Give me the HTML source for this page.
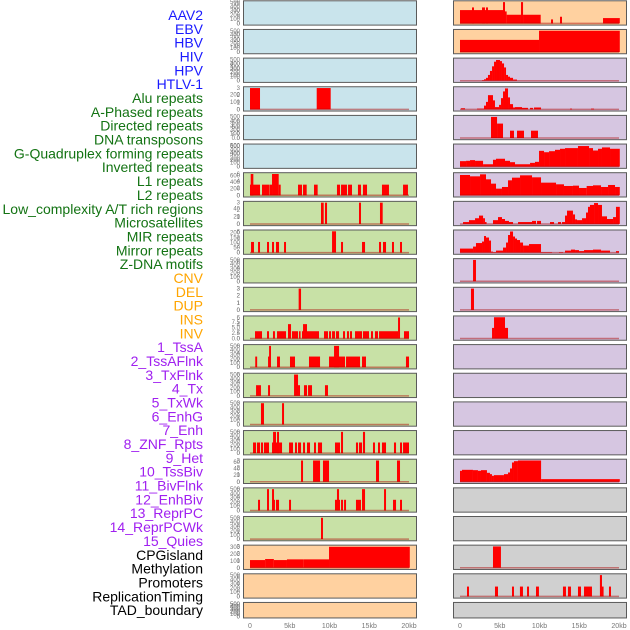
<!DOCTYPE html>
<html><head><meta charset="utf-8"><style>
body{margin:0;background:#fff;width:630px;height:630px;overflow:hidden}
svg{display:block}
</style></head><body>
<svg id="chart" width="630" height="630" xmlns="http://www.w3.org/2000/svg">
<g id="labels"></g>
<g id="panels"></g>
<g id="xaxes"></g>
</svg>
<script>
const trackNames = ["AAV2","EBV","HBV","HIV","HPV","HTLV-1","Alu repeats","A-Phased repeats","Directed repeats","DNA transposons","G-Quadruplex forming repeats","Inverted repeats","L1 repeats","L2 repeats","Low_complexity A/T rich regions","Microsatellites","MIR repeats","Mirror repeats","Z-DNA motifs","CNV","DEL","DUP","INS","INV","1_TssA","2_TssAFlnk","3_TxFlnk","4_Tx","5_TxWk","6_EnhG","7_Enh","8_ZNF_Rpts","9_Het","10_TssBiv","11_BivFlnk","12_EnhBiv","13_ReprPC","14_ReprPCWk","15_Quies","CPGisland","Methylation","Promoters","ReplicationTiming","TAD_boundary"];
const trackGroups = [0,0,0,0,0,0,1,1,1,1,1,1,1,1,1,1,1,1,1,2,2,2,2,2,3,3,3,3,3,3,3,3,3,3,3,3,3,3,3,4,4,4,4,4];
const xTickLabels = ["0","5kb","10kb","15kb","20kb"];
const xTickValues = [0,5,10,15,20];

// segments: [startKb, endKb, value]
const L3 = [[0,1.26,3],[8.39,10.15,3]];
const L6 = [[0,1.26,3],[0.09,0.42,6],[1.51,2.39,3],[2.43,2.77,3],[2.77,3.61,6],[3.61,3.86,3],[6.04,6.54,3],[6.67,7.13,3],[8.05,8.51,3],[10.94,11.32,3],[11.45,12.2,3],[12.33,12.83,3],[13.58,13.96,3],[14.21,14.72,3],[16.6,17.48,3],[19.25,19.87,3]];
const L7 = [[8.93,9.27,3],[9.43,9.69,3],[13.71,13.96,3],[16.35,16.69,3]];
const L8 = [[0.13,0.5,3],[1.01,1.26,3],[2.14,2.39,3],[2.77,3.02,3],[3.27,3.65,3],[4.28,4.53,3],[10.32,10.82,6],[11.45,11.7,3],[14.09,14.47,3],[16.23,16.48,3],[16.73,17.11,3],[17.86,18.11,3],[18.87,19.12,3]];
const L10 = [[6.12,6.42,3]];
const L11 = [[0.63,1.51,3.3],[2.14,2.39,3.3],[2.89,3.14,3.3],[3.4,4.53,3.3],[4.78,5.16,6.5],[5.28,6.04,3.3],[6.16,6.29,3.3],[6.54,8.68,3.3],[6.67,7.17,6.5],[9.31,9.81,3.3],[9.94,10.19,3.3],[10.32,10.69,3.3],[10.82,11.2,3.3],[11.7,11.95,3.3],[12.2,12.45,3.3],[12.58,12.83,3.3],[13.21,14.09,3.3],[14.21,14.97,3.3],[15.22,15.47,3.3],[15.72,16.1,3.3],[16.23,18.62,3.3],[18.62,18.87,9.5],[19.37,20,3.3]];
const L12 = [[0.66,0.9,3],[2.27,2.52,3],[2.4,2.64,6],[3.4,3.77,3],[5.03,5.66,3],[7.42,8.81,3],[9.94,11.95,3],[10.57,11.2,6],[12.08,13.84,3],[14.09,14.59,3],[19.62,20,3]];
const L13 = [[0.76,1.38,3],[2.27,2.52,3],[5.54,6.04,6],[6.04,6.29,3],[6.79,7.17,3],[7.3,7.8,3],[9.43,9.81,3]];
const L14 = [[1.38,1.76,3],[4.03,4.28,3]];
const L15 = [[0.38,0.76,3],[0.88,1.26,3],[1.38,1.64,3],[1.76,2.39,3],[2.77,3.02,3],[2.9,3.27,6],[3.27,3.65,3],[3.4,3.65,6],[3.65,4.03,3],[4.91,5.41,3],[5.66,5.91,3],[6.04,6.42,3],[6.67,6.92,3],[7.17,7.55,3],[8.05,8.3,3],[8.55,9.06,3],[10.69,11.32,3],[11.45,11.7,6],[13.33,13.59,3],[13.71,14.09,3],[14.21,14.47,6],[15.47,15.72,3],[16.1,16.35,3],[16.6,17.11,3],[18.11,18.37,3],[18.87,19.12,3],[19.25,20,3]];
const L16 = [[6.42,6.67,3],[7.93,8.81,3],[9.18,9.94,3],[15.85,16.23,3],[18.49,18.87,3]];
const L17 = [[1.01,1.26,3],[2.14,2.39,6],[2.77,3.14,3],[2.77,3.02,6],[3.27,3.65,3],[4.91,5.16,3],[10.69,11.32,3],[10.94,11.2,6],[11.45,11.7,3],[11.83,12.08,3],[13.33,13.96,3],[14.09,14.47,6],[16.86,17.11,6],[17.99,18.37,3],[18.87,19.12,3]];
const L18 = [[8.93,9.18,3]];
const L19 = [[0,1.9,110],[1.9,3.0,125],[3.0,4.65,110],[4.65,6.7,120],[6.7,9.94,120],[9.94,20.1,300]];
const R0 = [[0,5.45,10],[1.51,1.76,12],[2.77,3.14,12],[3.27,3.52,12],[5.41,5.66,16],[5.66,5.87,9],[5.87,7.67,6.5],[7.67,7.93,16],[7.93,10.15,6.5],[11.45,11.7,3],[12.58,12.83,5],[17.99,20.1,4]];
const R1 = [[0,9.94,20],[9.94,20.1,35]];
const R2 = [[2.77,3.02,10],[3.02,3.27,25],[3.27,3.52,50],[3.52,3.77,100],[3.77,4.03,170],[4.03,4.28,250],[4.28,4.53,330],[4.53,5.03,360],[5.03,5.28,340],[5.28,5.54,300],[5.54,5.79,230],[5.79,6.04,100],[6.04,6.29,70],[6.29,6.67,50],[6.67,7.17,20]];
const R3 = [[0.13,0.63,15],[2.14,3.02,10],[3.02,3.27,50],[3.27,3.52,100],[3.52,4.15,190],[4.15,4.4,120],[4.4,4.91,30],[4.91,5.16,60],[5.16,5.41,150],[5.41,5.66,240],[5.66,6.04,280],[6.04,6.29,160],[6.29,6.67,70],[6.67,6.92,25],[6.92,7.8,30],[7.8,8.55,20],[8.81,9.18,20],[9.31,10.19,25],[13.84,14.09,10],[16.48,16.86,10]];
const R4 = [[3.9,4.66,9.5],[4.66,5.41,6.5],[6.29,6.79,3.3],[7.17,8.05,3.3],[8.93,9.81,3.3]];
const R5 = [[0,0.76,160],[0.76,1.26,170],[1.26,1.89,190],[1.89,2.9,170],[2.9,4.15,70],[4.15,4.53,200],[4.53,5.66,230],[5.66,6.29,170],[6.29,6.92,130],[6.92,8.81,70],[8.81,9.43,110],[9.43,9.94,140],[9.94,10.57,460],[10.57,11.2,420],[11.2,11.95,450],[11.95,12.58,490],[12.58,13.21,520],[13.21,14.84,540],[14.84,16.23,600],[16.23,16.73,540],[16.73,17.36,470],[17.36,17.86,520],[17.86,18.87,560],[18.87,20.1,520]];
const R6 = [[0,1.26,610],[1.26,2.52,570],[2.52,3.27,630],[3.27,3.9,480],[3.9,4.53,350],[4.53,5.28,200],[5.28,6.04,250],[6.04,6.54,450],[6.54,7.55,530],[7.55,9.06,600],[9.06,10.19,540],[10.19,12.08,380],[12.08,13.08,330],[13.08,14.21,280],[14.21,14.97,290],[14.97,15.93,220],[15.93,16.73,280],[16.73,17.74,300],[17.74,18.62,250],[18.62,19.5,310],[19.5,20.1,250]];
const R7 = [[0.38,1.13,5],[1.13,1.89,10],[1.89,2.39,15],[2.39,2.9,22],[2.9,3.14,15],[3.14,3.27,5],[4.15,4.78,10],[4.78,5.28,18],[5.28,5.66,13],[5.66,6.16,8],[6.16,6.67,5],[7.3,9.06,5],[9.06,9.56,8],[9.69,10.19,8],[11.32,11.83,5],[12.33,12.71,5],[12.83,13.21,5],[13.21,13.46,22],[13.46,14.21,35],[14.21,14.47,25],[14.47,14.72,12],[14.72,15.35,10],[15.35,15.85,15],[15.85,16.1,30],[16.1,16.35,45],[16.35,16.86,50],[16.86,17.36,55],[17.36,17.86,50],[17.86,18.49,20],[18.49,19.25,13],[19.25,19.62,18],[19.62,20.1,45]];
const R8 = [[0,1.64,40],[1.64,2.01,60],[2.01,2.77,95],[2.77,3.02,110],[3.02,3.27,165],[3.27,3.65,150],[3.65,3.9,120],[3.9,4.15,10],[4.15,4.53,5],[4.53,5.41,20],[5.41,5.79,50],[5.79,6.04,100],[6.04,6.29,175],[6.29,6.67,210],[6.67,6.92,160],[6.92,7.17,140],[7.17,7.55,125],[7.55,7.93,100],[7.93,8.68,70],[8.68,10.19,85],[10.19,11.58,5],[12.45,12.96,5],[13.21,13.96,20],[13.96,14.47,30],[14.47,14.97,25],[14.97,15.6,15],[15.6,16.73,25],[16.73,17.74,30],[17.74,18.87,20],[19.62,20,15]];
const R9 = [[1.64,2.01,6.5]];
const R10 = [[1.38,1.76,3]];
const R11 = [[4.03,4.28,3],[4.28,5.66,6],[5.66,6.04,3]];
const R16 = [[0,0.25,33],[0.25,1.63,36],[1.63,2.26,35],[2.26,2.64,33],[2.64,3.39,35],[3.39,3.77,27],[3.77,4.02,23],[4.02,4.27,18],[4.27,5.53,20],[5.53,6.04,23],[6.04,6.29,28],[6.29,6.54,40],[6.54,6.79,58],[6.79,7.29,62],[7.29,10.2,64],[10.2,20.1,8]];
const R19 = [[4.15,5.15,3]];
const R20 = [[0.88,1.13,3],[4.4,4.78,3],[6.54,6.79,3],[7.54,7.92,3],[8.43,8.68,3],[9.56,9.93,3],[12.95,13.33,3],[13.58,13.96,3],[14.84,15.22,3],[15.6,16.6,3],[17.6,17.86,6.5],[17.86,17.99,3],[18.74,18.99,3]];

const T500=["0","100","200","300","400","500"];
const BL="#c9e4ec",GR="#c8e1a6",OR="#ffd1a0",PU="#d6c6e1",GY="#d0d0d0";
const panels = [];
function P(col,row,bg,ticks,vals,ymax,segs){panels.push({col,row,bg,ticks,vals,ymax,segs});}
const v500=[0,100,200,300,400,500];
P(0,0,BL,T500,v500,500,null);P(0,1,BL,T500,v500,500,null);P(0,2,BL,T500,v500,500,null);
P(0,3,BL,["0","1","2","3"],[0,1,2,3],3,L3);
P(0,4,BL,T500,v500,500,null);P(0,5,BL,T500,v500,500,null);
P(0,6,GR,["0","2","4","6"],[0,2,4,6],6,L6);
P(0,7,GR,["0","1","2","3"],[0,1,2,3],3,L7);
P(0,8,GR,["0","2","4","6"],[0,2,4,6],6,L8);
P(0,9,GR,T500,v500,500,null);
P(0,10,GR,["0","1","2","3"],[0,1,2,3],3,L10);
P(0,11,GR,["0.0","2.5","5.0","7.5"],[0,2.5,5,7.5],9.6,L11);
P(0,12,GR,["0","2","4","6"],[0,2,4,6],6,L12);
P(0,13,GR,["0","2","4","6"],[0,2,4,6],6,L13);
P(0,14,GR,["0","1","2","3"],[0,1,2,3],3,L14);
P(0,15,GR,["0","2","4","6"],[0,2,4,6],6,L15);
P(0,16,GR,["0","1","2","3"],[0,1,2,3],3,L16);
P(0,17,GR,["0","2","4","6"],[0,2,4,6],6,L17);
P(0,18,GR,["0","1","2","3"],[0,1,2,3],3,L18);
P(0,19,OR,["0","100","200","300"],[0,100,200,300],305,L19);
P(0,20,OR,T500,v500,500,null);P(0,21,OR,T500,v500,500,null);
P(1,0,OR,["0","5","10","15"],[0,5,10,15],16,R0);
P(1,1,OR,["0","10","20","30"],[0,10,20,30],35,R1);
P(1,2,PU,["0","100","200","300"],[0,100,200,300],370,R2);
P(1,3,PU,["0","100","200"],[0,100,200],285,R3);
P(1,4,PU,["0.0","2.5","5.0","7.5"],[0,2.5,5,7.5],9.6,R4);
P(1,5,PU,["0","200","400","600"],[0,200,400,600],620,R5);
P(1,6,PU,["0","200","400","600"],[0,200,400,600],640,R6);
P(1,7,PU,["0","20","40"],[0,20,40],56,R7);
P(1,8,PU,["0","50","100","150","200"],[0,50,100,150,200],212,R8);
P(1,9,PU,["0","2","4","6"],[0,2,4,6],6.5,R9);
P(1,10,PU,["0","1","2","3"],[0,1,2,3],3,R10);
P(1,11,PU,["0","2","4","6"],[0,2,4,6],6,R11);
P(1,12,PU,T500,v500,500,null);P(1,13,PU,T500,v500,500,null);P(1,14,PU,T500,v500,500,null);P(1,15,PU,T500,v500,500,null);
P(1,16,PU,["0","20","40","60"],[0,20,40,60],64,R16);
P(1,17,GY,T500,v500,500,null);P(1,18,GY,T500,v500,500,null);
P(1,19,GY,["0","1","2","3"],[0,1,2,3],3,R19);
P(1,20,GY,["0","2","4","6"],[0,2,4,6],6.5,R20);
P(1,21,GY,T500,v500,500,null);

const NS="http://www.w3.org/2000/svg";
function mk(tag,attrs,parent){const e=document.createElementNS(NS,tag);for(const k in attrs)e.setAttribute(k,attrs[k]);parent.appendChild(e);return e;}
const groupColors=["#1a1aff","#137313","#ffa500","#a020f0","#000000"];
const gl=document.getElementById("labels");
trackNames.forEach((n,i)=>{
  const t=mk("text",{x:203,y:15+i*13.84+5,"text-anchor":"end","font-size":"14","font-family":"Liberation Sans, sans-serif",fill:groupColors[trackGroups[i]]},gl);
  
  
  t.textContent=n;
});
const gp=document.getElementById("panels");
const colX=[243,453], zeroX=[250,460], pxPerKb=7.95;
function xs(col,kb){return zeroX[col]+kb*pxPerKb;}
panels.forEach(p=>{
  const top=p.row*28.65+0.3, h=p.row===21?15.5:24.3, x0=colX[p.col];
  const g=mk("g",{},gp);
  
  
  const bg=mk("rect",{x:x0+0.5,y:top+0.5,width:173,height:h,fill:p.bg,stroke:"#5a5a5a","stroke-width":1},g);
  
  
  const yb=top+h-1.2, ytop=top+1.8;
  const ys=v=>yb-(v/p.ymax)*(yb-ytop);
  p.vals.forEach((v,i)=>{
    const t=mk("text",{x:240,y:ys(v)+2,"text-anchor":"end","font-size":"6","font-family":"Liberation Sans, sans-serif",fill:"#777"},g);
    
    
    t.textContent=p.ticks[i];
  });
  if(p.segs){
    p.segs.forEach(s=>{
      const y=ys(s[2]);
      const b=mk("rect",{x:xs(p.col,s[0]),y:y,width:Math.max(1.6,(s[1]-s[0])*pxPerKb),height:yb-y,fill:"#ff0000"},g);
      
      
    });
    const bl=mk("line",{x1:xs(p.col,0),x2:xs(p.col,20),y1:yb,y2:yb,stroke:"rgba(170,0,0,0.45)","stroke-width":1.5},g);
    
    
  }
});
const gx=document.getElementById("xaxes");
[0,1].forEach(col=>{
  xTickValues.forEach((v,i)=>{
    const t=mk("text",{x:xs(col,v),y:628,"text-anchor":"middle","font-size":"7","font-family":"Liberation Sans, sans-serif",fill:"#777"},gx);
    
    
    t.textContent=xTickLabels[i];
  });
});
</script>
</body></html>
